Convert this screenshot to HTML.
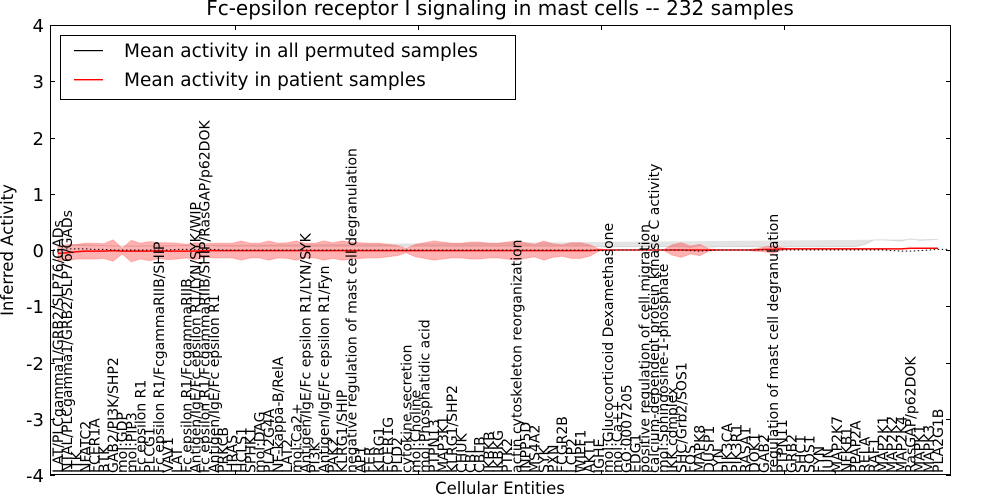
<!DOCTYPE html>
<html><head><meta charset="utf-8"><style>
body{margin:0;background:#fff;}
svg{display:block;font-family:"DejaVu Sans","Liberation Sans",sans-serif;}
</style></head><body>
<svg id="chart" width="1000" height="500" viewBox="0 0 1000 500" xmlns="http://www.w3.org/2000/svg">
<rect width="1000" height="500" fill="#fff"/>
<text x="500" y="15" font-size="20" text-anchor="middle">Fc-epsilon receptor I signaling in mast cells -- 232 samples</text>
<g id="bands"></g>
<g id="lines"></g>
<g id="yaxis"></g>
<g id="xlabels"></g>
<rect x="50.5" y="25.5" width="900" height="449" fill="none" stroke="#000" stroke-width="1"/>
<text transform="translate(13,250) rotate(-90)" font-size="16.5" text-anchor="middle">Inferred Activity</text>
<text x="500" y="494" font-size="16.5" text-anchor="middle">Cellular Entities</text>
<g>
<rect x="60.5" y="35.5" width="455" height="64" fill="#fff" stroke="#000"/>
<rect x="74" y="50" width="29" height="1.2" fill="#000"/>
<text x="124" y="57" font-size="18.5">Mean activity in all permuted samples</text>
<rect x="74" y="79" width="29" height="1.4" fill="#ff0000"/>
<text x="124" y="86" font-size="18.5">Mean activity in patient samples</text>
</g>
</svg>
<script>
const entities=["LAT/PLCgamma1/GRB2/SLP76/GADs","NTAL/PLCgamma1/GRB2/SLP76/GADs","ITK","NFATC2","FCER1A","BTK","GAB2/PI3K/SHP2","mol:GDP","mol:PIP3","Fc epsilon R1","PLCG1","Fc epsilon R1/FcgammaRIIB/SHIP","VAV1","LAT","Fc epsilon R1/FcgammaRIIB","Antigen/IgE/Fc epsilon R1/LYN/SYK/WIP","Fc epsilon R1/FcgammaRIIB/SHIP/RasGAP/p62DOK","Antigen/IgE/Fc epsilon R1","PRKCB","HRAS","HCLS1","SPHK1","mol:DAG","PLA2G4A","NF-kappa-B/RelA","LAT2","mol:Ca2+","Antigen/IgE/Fc epsilon R1/LYN/SYK","PI3K","Antigen/IgE/Fc epsilon R1/Fyn","PAK2","KLRG1/SHIP","negative regulation of mast cell degranulation","AP1","FER","KLRG1","FCER1G","PLD2","cytokine secretion","mol:Choline","mol:Phosphatidic acid","PTPN13","MAP3K1","KLRG1/SHP2","CHUK","CBL","CBLB","IKBKB","IKBKG","PTK2","actin cytoskeleton reorganization","INPP5D","MS4A2","SYK","PXN","FCGR2B","LCP2","WIPF1","AKT1","IGHE","mol:Glucocorticoid Dexamethasone","mol:Ca++","GO:0007205","EDG1","positive regulation of cell migration","calcium-dependent protein kinase C activity","mol:Sphingosine-1-phosphate","IKK complex","SHC/Grb2/SOS1","FOS","MAPK8","DUSP1","LYN","PIK3CA","PIK3R1","RASA1","DOK1","GAB2","regulation of mast cell degranulation","PTPN11","GRB2","SHC1","SOS1","FYN","JUN","MAP2K7","NFKB1","PPAP2A","RELA","RAF1","MAP2K1","MAP2K2","MAP2K4","RasGAP/p62DOK","MAPK1","MAPK3","PLA2G1B"];
const patientMean=[-0.06,-0.05,-0.03,-0.02,-0.02,-0.02,-0.01,-0.02,-0.02,-0.02,-0.02,-0.01,-0.02,-0.02,-0.02,-0.02,-0.01,-0.01,-0.01,-0.01,-0.01,-0.01,-0.01,-0.01,-0.01,-0.01,-0.01,-0.01,-0.01,-0.01,-0.01,-0.01,-0.01,-0.01,-0.01,-0.01,-0.01,-0.01,-0.01,-0.01,-0.01,-0.01,-0.01,-0.01,-0.01,-0.01,-0.01,-0.01,-0.01,-0.01,-0.01,-0.01,-0.01,-0.01,-0.01,-0.01,-0.01,-0.01,-0.01,0,0,0,0,0,0,0,0,0,0,0,0,0,0,0,0,0,0,0.01,0.01,0.02,0.02,0.02,0.02,0.02,0.02,0.02,0.02,0.02,0.02,0.02,0.02,0.02,0.02,0.03,0.03,0.03,0.03];
const patientSD=[0.12,0.14,0.13,0.14,0.14,0.13,0.19,0.05,0.19,0.14,0.17,0.14,0.15,0.14,0.12,0.15,0.12,0.13,0.13,0.13,0.17,0.13,0.13,0.17,0.13,0.14,0.17,0.13,0.13,0.17,0.14,0.17,0.15,0.14,0.13,0.13,0.11,0.09,0.04,0.11,0.14,0.17,0.15,0.13,0.13,0.15,0.15,0.13,0.13,0.15,0.17,0.14,0.11,0.17,0.12,0.1,0.14,0.14,0.1,0.02,0,0,0,0,0,0,0,0.09,0.13,0.07,0.1,0.02,0,0,0,0,0.02,0.04,0.07,0.02,0,0,0,0,0,0,0,0,0,0,0,0,0,0,0,0,0];
const permMean=[0,0.02,0.02,0.02,0.01,0.01,0,0,0,0,0,0,0,0.01,0.01,0.01,0.01,0.01,0,0,0,0,0,0,0,0,0,0,0,0,0,0,0,0,0,0,0,0,0,0,0,0,0,0,0,0,0,0,0,0,0,0,0,0,0,0,0,0,0,-0.01,-0.01,0,0,0,0,0,0,0,0,-0.01,-0.02,-0.01,0,0,0,0,0,0,0,0,0,0,0,0,0,0,0,0,0,0,0,-0.01,-0.02,-0.02,-0.01,0,0.01,0.01];
const permSD=[0.07,0.07,0.07,0.07,0.07,0.07,0.07,0.07,0.07,0.07,0.07,0.07,0.07,0.07,0.07,0.07,0.07,0.07,0.07,0.07,0.07,0.07,0.07,0.07,0.07,0.07,0.07,0.07,0.07,0.07,0.07,0.07,0.07,0.07,0.07,0.07,0.07,0.07,0.07,0.07,0.07,0.07,0.07,0.07,0.07,0.07,0.07,0.07,0.07,0.07,0.07,0.07,0.07,0.07,0.07,0.07,0.07,0.07,0.07,0.07,0.06,0.06,0.06,0.06,0.06,0.06,0.06,0.06,0.06,0.06,0.1,0.06,0.06,0.06,0.06,0.06,0.06,0.06,0.06,0.06,0.06,0.06,0.06,0.06,0.06,0.06,0.06,0.06,0.1,0.18,0.18,0.18,0.18,0.22,0.18,0.18,0.18];
const yTicks=[4,3,2,1,0,-1,-2,-3,-4];

const NS='http://www.w3.org/2000/svg';
const xScale=i=>58+i*(880/(entities.length-1));
const yScale=v=>250-v*56.25;
function mk(tag,attrs,parent){const e=document.createElementNS(NS,tag);for(const k in attrs)e.setAttribute(k,attrs[k]);parent.appendChild(e);return e;}
const bands=document.getElementById('bands'),lines=document.getElementById('lines'),yaxis=document.getElementById('yaxis'),xl=document.getElementById('xlabels');
function bandPath(mean,sd){let up=mean.map((m,i)=>xScale(i).toFixed(1)+','+yScale(m+sd[i]).toFixed(1));let dn=mean.map((m,i)=>xScale(i).toFixed(1)+','+yScale(m-sd[i]).toFixed(1)).reverse();return 'M'+up.join('L')+'L'+dn.join('L')+'Z';}
const pb=mk('path',{d:bandPath(permMean,permSD),fill:'#bbb','fill-opacity':'0.4',stroke:'#bbb','stroke-opacity':'0.5'},bands);


const rb=mk('path',{d:bandPath(patientMean,patientSD),fill:'#f00','fill-opacity':'0.3',stroke:'#f66','stroke-opacity':'0.4'},bands);


const rl=mk('polyline',{points:patientMean.map((m,i)=>xScale(i).toFixed(1)+','+yScale(m).toFixed(1)).join(' '),fill:'none',stroke:'#f00','stroke-width':'1.5'},lines);


const bl=mk('polyline',{points:permMean.map((m,i)=>xScale(i).toFixed(1)+','+yScale(m).toFixed(1)).join(' '),fill:'none',stroke:'#000','stroke-width':'1','stroke-dasharray':'1.5,2.5'},lines);


yTicks.forEach(v=>{const y=Math.round(yScale(v))+0.5;
 mk('line',{x1:50,y1:y,x2:55,y2:y,stroke:'#000'},yaxis);
 mk('line',{x1:946,y1:y,x2:951,y2:y,stroke:'#000'},yaxis);
 const t=mk('text',{x:44,y:y+6.5,'font-size':'18','text-anchor':'end'},yaxis);t.textContent=v;
 
 
});
[235,418,601,784].forEach(x=>{mk('line',{x1:x+0.5,y1:25,x2:x+0.5,y2:30,stroke:'#000'},yaxis);mk('line',{x1:x+0.5,y1:470,x2:x+0.5,y2:475,stroke:'#000'},yaxis);});
entities.forEach((n,i)=>{const x=xScale(i)+5;
 const t=mk('text',{transform:`translate(${x.toFixed(1)},473) rotate(-90)`,'font-size':'14'},xl);t.textContent=n;
 
 
});
</script>
</body></html>
